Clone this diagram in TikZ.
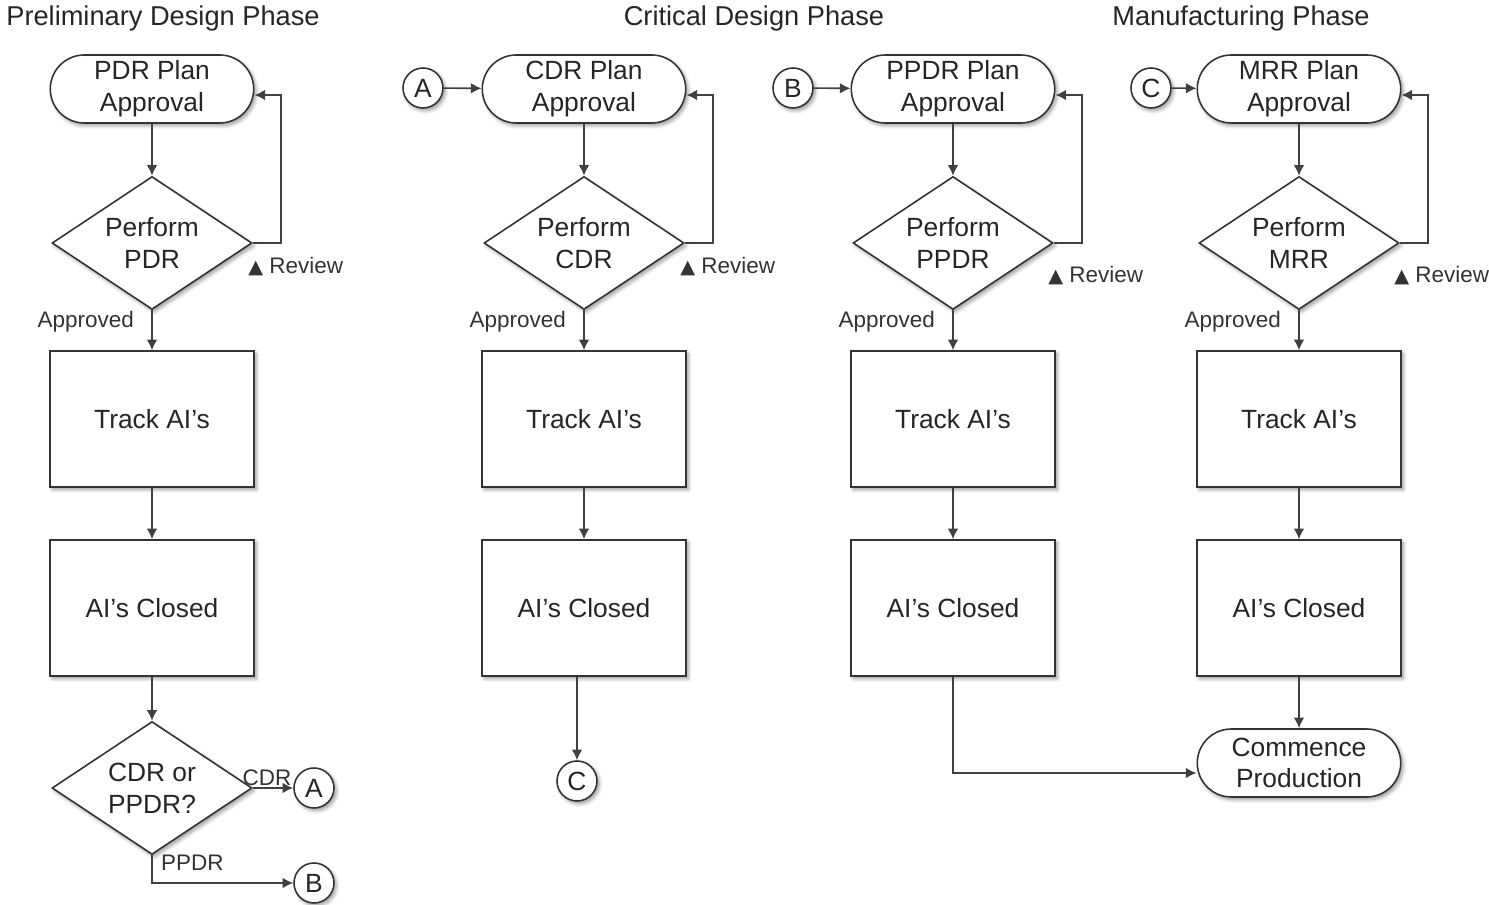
\documentclass[tikz,border=0pt]{standalone}
\usepackage{fontspec}
\setmainfont{Liberation Sans}
\newfontfamily\symfont{DejaVu Sans}
\usepackage{tikz}
\usetikzlibrary{shapes.geometric, shapes.misc, arrows.meta, positioning, calc, shadows.blur}

\begin{document}
\begin{tikzpicture}[
    x=0.02cm, y=-0.02cm,
    shade/.style={blur shadow={shadow xshift=1.3pt, shadow yshift=-1.5pt, shadow blur steps=6, shadow opacity=40}},
    terminal/.style={rounded rectangle, draw=black!80, fill=white, shade, line width=0.9pt, minimum width=4.14cm, minimum height=1.36cm, inner xsep=1pt, align=center, font=\fontsize{15}{18}\selectfont, text=black!85},
    decision/.style={diamond, aspect=1.5, draw=black!80, fill=white, shade, line width=0.9pt, minimum width=4cm, minimum height=2.66cm, inner sep=0pt, align=center, font=\fontsize{15}{18}\selectfont, text=black!85},
    process/.style={rectangle, draw=black!80, fill=white, shade, line width=0.9pt, minimum width=4.08cm, minimum height=2.72cm, align=center, font=\fontsize{15}{18}\selectfont, text=black!85},
    connector/.style={circle, draw=black!80, fill=white, shade, line width=0.9pt, minimum size=0.8cm, inner sep=0pt, font=\fontsize{15}{16}\selectfont, text=black!85},
    phase/.style={font=\fontsize{15.5}{18}\selectfont, text=black!85},
    lbl/.style={font=\fontsize{12.8}{14}\selectfont, text=black!80, inner sep=1pt},
    arrow/.style={line width=0.9pt, draw=black!75, -{Latex[length=6pt,width=6pt]}}
]
\useasboundingbox (0,0) rectangle (1489,905);

% Phase titles
\node[phase] (title1) at (163,18) {Preliminary Design Phase};
\node[phase] (title2) at (754,18) {Critical Design Phase};
\node[phase] (title3) at (1241,18) {Manufacturing Phase};

% Preliminary design
\node[terminal] (plan1) at (152,89) {PDR Plan\\Approval};
\node[decision] (pdr) at (152,243) {Perform\\PDR};
\node[process] (track1) at (152,419) {Track AI’s};
\node[process] (closed1) at (152,608) {AI’s Closed};
\node[decision] (choice) at (152,788) {CDR or\\PPDR?};
\node[connector] (cA1) at (314,788) {A};
\node[connector] (cB1) at (314,883) {B};

% Critical design
\node[connector] (cA2) at (423,88) {A};
\node[terminal] (plan2) at (584,89) {CDR Plan\\Approval};
\node[decision] (cdr) at (584,243) {Perform\\CDR};
\node[process] (track2) at (584,419) {Track AI’s};
\node[process] (closed2) at (584,608) {AI’s Closed};
\node[connector] (cC2) at (577,781) {C};

% PPDR
\node[connector] (cB3) at (793,88) {B};
\node[terminal] (plan3) at (953,89) {PPDR Plan\\Approval};
\node[decision] (ppdr) at (953,243) {Perform\\PPDR};
\node[process] (track3) at (953,419) {Track AI’s};
\node[process] (closed3) at (953,608) {AI’s Closed};

% Manufacturing
\node[connector] (cC4) at (1151,88) {C};
\node[terminal] (plan4) at (1299,89) {MRR Plan\\Approval};
\node[decision] (mrr) at (1299,243) {Perform\\MRR};
\node[process] (track4) at (1299,419) {Track AI’s};
\node[process] (closed4) at (1299,608) {AI’s Closed};
\node[terminal] (commence) at (1299,763) {Commence\\Production};

% Arrows
\draw[arrow] (plan1) -- (pdr);
\draw[arrow] (pdr.east) -- ++(28,0) |- ($(plan1.east)+(0,6)$);
\draw[arrow] (pdr) -- (track1);
\draw[arrow] (track1) -- (closed1);
\draw[arrow] (closed1) -- (choice);
\draw[arrow] (choice.east) -- node[lbl, above, pos=.35] {CDR} (cA1);
\draw[arrow] (choice.south) |- (cB1);
\node[lbl, anchor=west] (ppdrlbl) at ($(choice.south)+(7,7)$) {PPDR};
\node[lbl, anchor=east] (ok1) at ($(pdr.south)+(-16,11)$) {Approved};
\node[lbl] (rev1) at ($(pdr.east)+(43,24)$) {{\symfont\fontsize{11}{12}\selectfont ▲} Review};

\draw[arrow] (cA2) -- (plan2);
\draw[arrow] (plan2) -- (cdr);
\draw[arrow] (cdr.east) -- ++(28,0) |- ($(plan2.east)+(0,6)$);
\draw[arrow] (cdr) -- (track2);
\draw[arrow] (track2) -- (closed2);
\draw[arrow] (cC2 |- closed2.south) -- (cC2);
\node[lbl, anchor=east] (ok2) at ($(cdr.south)+(-16,11)$) {Approved};
\node[lbl] (rev2) at ($(cdr.east)+(43,24)$) {{\symfont\fontsize{11}{12}\selectfont ▲} Review};

\draw[arrow] (cB3) -- (plan3);
\draw[arrow] (plan3) -- (ppdr);
\draw[arrow] (ppdr.east) -- ++(28,0) |- ($(plan3.east)+(0,6)$);
\draw[arrow] (ppdr) -- (track3);
\draw[arrow] (track3) -- (closed3);
\draw[arrow] (closed3.south) |- ($(commence.west)+(0,10)$);
\node[lbl, anchor=east] (ok3) at ($(ppdr.south)+(-16,11)$) {Approved};
\node[lbl] (rev3) at ($(ppdr.east)+(42,33)$) {{\symfont\fontsize{11}{12}\selectfont ▲} Review};

\draw[arrow] (cC4) -- (plan4);
\draw[arrow] (plan4) -- (mrr);
\draw[arrow] (mrr.east) -- ++(28,0) |- ($(plan4.east)+(0,6)$);
\draw[arrow] (mrr) -- (track4);
\draw[arrow] (track4) -- (closed4);
\draw[arrow] (closed4) -- (commence);
\node[lbl, anchor=east] (ok4) at ($(mrr.south)+(-16,11)$) {Approved};
\node[lbl] (rev4) at ($(mrr.east)+(42,33)$) {{\symfont\fontsize{11}{12}\selectfont ▲} Review};

\end{tikzpicture}
\end{document}
